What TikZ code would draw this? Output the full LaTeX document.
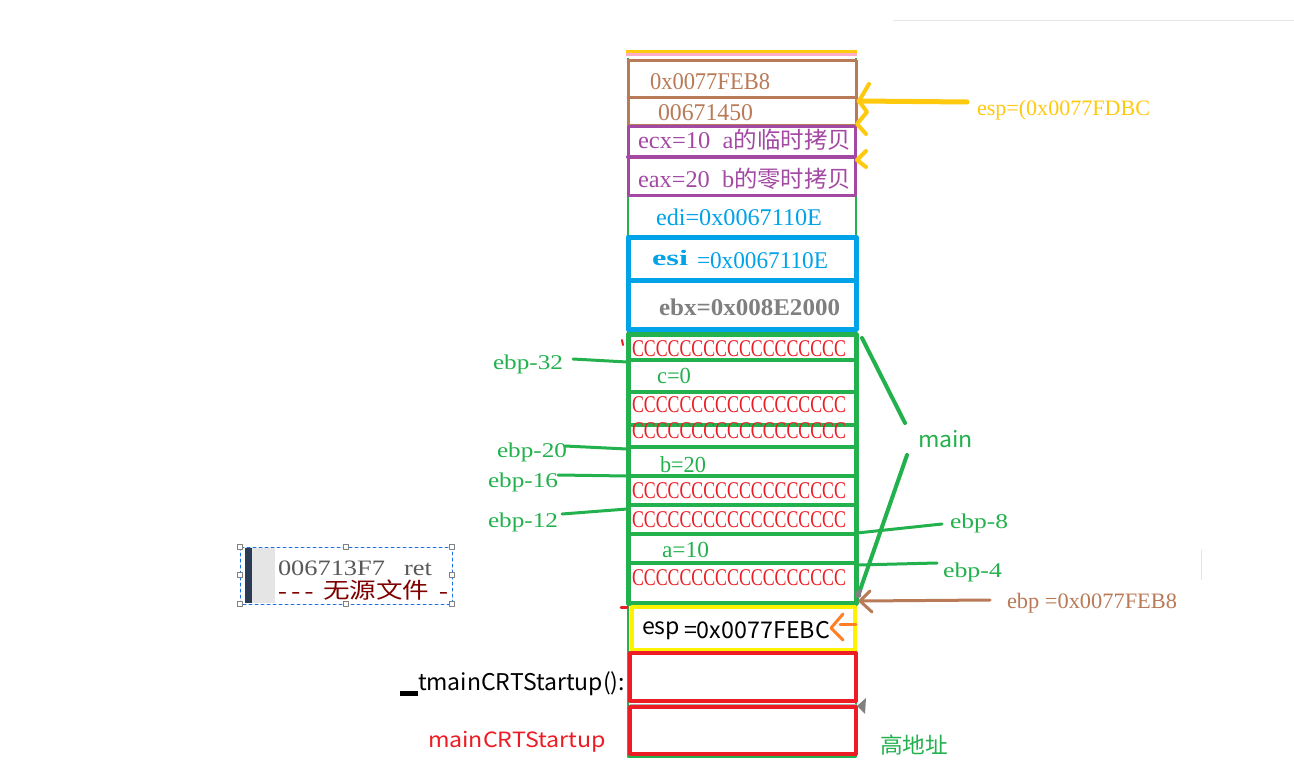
\documentclass[tikz,border=0pt]{standalone}
\usepackage{graphicx}
\usepackage{fontspec}
\setmainfont{Liberation Serif}
\newfontfamily\cjk{Noto Sans CJK SC}
\newfontfamily\ssf{Noto Sans CJK SC}
\newcommand\fw[2]{\resizebox{#1pt}{\height}{#2}}
\newcommand\fs[1]{\fontsize{#1}{#1}\selectfont}
\definecolor{pgreen}{HTML}{22B14C}
\definecolor{pbrown}{HTML}{B97A57}
\definecolor{ppurple}{HTML}{A349A4}
\definecolor{pblue}{HTML}{00A2E8}
\definecolor{pred}{HTML}{ED1C24}
\definecolor{pyellow}{HTML}{FFF200}
\definecolor{pgold}{HTML}{FFC90E}
\definecolor{ppink}{HTML}{FFAEC9}
\definecolor{porange}{HTML}{FF7F27}
\definecolor{pgray}{HTML}{7F7F7F}
\definecolor{dashblue}{HTML}{1A73E8}
\definecolor{navybar}{HTML}{2B3A55}
\definecolor{maroonc}{HTML}{800000}
\tikzset{
  lbl/.style={anchor=base west, inner sep=0pt, outer sep=0pt},
  gline/.style={pgreen, line width=4},
  handle/.style={draw=gray, fill=white, line width=0.8},
}
\begin{document}
\begin{tikzpicture}[x=1pt,y=-1pt,line cap=round,line join=round]
\useasboundingbox[fill=white] (0,0) rectangle (1294,779);

% faint lines
\draw[gray!20, line width=1] (893,20) -- (1294,20);
\draw[gray!20, line width=1] (1201,550) -- (1201,580);

% top bars
\draw[pgold, line width=3, line cap=butt] (626,51) -- (857,51);
\draw[ppink, line width=3, line cap=butt] (626,54.5) -- (857,54.5);

% outer thin green frame
\draw[pgreen, line width=2, line cap=butt] (628,58) -- (628,757) -- (856,757) -- (856,58);

% brown boxes
\draw[pbrown, line width=3] (628,60) rectangle (856,125);
\draw[pbrown, line width=3] (628,97) -- (856,97);
% purple boxes
\draw[ppurple, line width=3] (628,126) rectangle (855,195);
\draw[ppurple, line width=4] (628,157) -- (855,157);
% blue boxes
\draw[pblue, line width=5] (628,237) rectangle (856,280);
\draw[pblue, line width=5] (628,280) rectangle (856,329);

% green main frame
\draw[pgreen, line width=5] (628,334) rectangle (856,603);
\foreach \yy in {360,392,425,447,476,505,534,563}
  \draw[gline] (628,\yy) -- (856,\yy);

% yellow box
\draw[pyellow, line width=4] (632,607) rectangle (855,650);
% red boxes
\draw[pred, line width=4] (630,653) rectangle (856,701);
\draw[gray!60, line width=1] (630,704) -- (856,704);
\draw[pred, line width=4] (630,707) rectangle (856,754);

% small red ticks
\draw[pred, line width=2] (622,340) -- (623,345);
\draw[pred, line width=3] (621,607) -- (627,607);

% texts in the stack
\node[lbl, text=pbrown] (t1) at (650,89) {\fs{24}\fw{120}{0x0077FEB8}};
\node[lbl, text=pbrown] (t2) at (658,120) {\fs{24}\fw{95}{00671450}};
\node[lbl, text=ppurple] (t3) at (638,148) {\fs{24}\fw{213}{ecx=10\hspace{12pt}a{\cjk\fs{23}的临时拷贝}}};
\node[lbl, text=ppurple] (t4) at (638,187) {\fs{24}\fw{213}{eax=20\hspace{12pt}b{\cjk\fs{23}的零时拷贝}}};
\node[lbl, text=pblue] (t5) at (656,225) {\fs{24}\fw{166}{edi=0x0067110E}};
\node[lbl, text=pblue] (t6a) at (652,265) {\fs{22}\fw{36}{\bfseries esi}};
\node[lbl, text=pblue] (t6b) at (697,268) {\fs{24}\fw{131}{=0x0067110E}};
\node[lbl, text=pgray] (t7) at (659,315) {\fs{24}\fw{181}{\bfseries ebx=0x008E2000}};

\node[lbl, text=pred] (c1) at (632,356) {\fs{24}\fw{214}{CCCCCCCCCCCCCCCCCC}};
\node[lbl, text=pgreen] (cv) at (657,383) {\fs{23}\fw{34}{c=0}};
\node[lbl, text=pred] (c2) at (632,412) {\fs{24}\fw{214}{CCCCCCCCCCCCCCCCCC}};
\node[lbl, text=pred] (c3) at (632,438) {\fs{24}\fw{214}{CCCCCCCCCCCCCCCCCC}};
\node[lbl, text=pgreen] (bv) at (660,472) {\fs{23}\fw{46}{b=20}};
\node[lbl, text=pred] (c4) at (632,498) {\fs{24}\fw{214}{CCCCCCCCCCCCCCCCCC}};
\node[lbl, text=pred] (c5) at (632,527) {\fs{24}\fw{214}{CCCCCCCCCCCCCCCCCC}};
\node[lbl, text=pgreen] (av) at (662,557) {\fs{23}\fw{47}{a=10}};
\node[lbl, text=pred] (c6) at (632,585) {\fs{24}\fw{214}{CCCCCCCCCCCCCCCCCC}};

\node[lbl, text=black] (esp1) at (642,634) {\ssf\fs{23}\fw{38}{esp}};
\node[lbl, text=black] (esp2) at (684,638) {\ssf\fs{23}\fw{146}{=0x0077FEBC}};

% left labels
\fill[black] (400,691) rectangle (418,696);
\node[lbl, text=black] (tm) at (418,690) {\ssf\fs{23}\fw{207}{tmainCRTStartup():}};
\node[lbl, text=pred] (mc) at (428,747) {\ssf\fs{21}\fw{178}{mainCRTStartup}};
\node[lbl, text=pgreen] (gd) at (880,753) {\ssf\fs{22}\fw{68}{高地址}};
\node[lbl, text=pgreen] (mn) at (918,447) {\ssf\fs{22}\fw{55}{main}};

\node[lbl, text=pgreen] (l32) at (493,369) {\fs{21}\fw{70}{ebp-32}};
\node[lbl, text=pgreen] (l20) at (497,457) {\fs{21}\fw{70}{ebp-20}};
\node[lbl, text=pgreen] (l16) at (488,487) {\fs{21}\fw{70}{ebp-16}};
\node[lbl, text=pgreen] (l12) at (488,527) {\fs{21}\fw{70}{ebp-12}};
\node[lbl, text=pgreen] (l8) at (950,528) {\fs{21}\fw{58}{ebp-8}};
\node[lbl, text=pgreen] (l4) at (943,577) {\fs{21}\fw{59}{ebp-4}};
\node[lbl, text=pbrown] (lebp) at (1007,608) {\fs{22}\fw{170}{ebp =0x0077FEB8}};
\node[lbl, text=pgold] (lesp) at (977,115) {\fs{22}\fw{173}{esp=(0x0077FDBC}};

% connector end points
\coordinate (a32) at (573,359); \coordinate (b32) at (627,362);
\coordinate (a20) at (565,446); \coordinate (b20) at (627,449);
\coordinate (a16) at (558,475); \coordinate (b16) at (627,476);
\coordinate (a12) at (562,514); \coordinate (b12) at (627,509);
\coordinate (a8) at (942,524); \coordinate (b8) at (857,533);
\coordinate (a4) at (937,563); \coordinate (b4) at (857,565);
\coordinate (m1a) at (905,423); \coordinate (m1b) at (862,338);
\coordinate (m2a) at (907,455); \coordinate (m2b) at (858,596);

\draw[pgreen, line width=3] (a32) -- (b32);
\draw[pgreen, line width=3] (a20) -- (b20);
\draw[pgreen, line width=3] (a16) -- (b16);
\draw[pgreen, line width=3] (a12) -- (b12);
\draw[pgreen, line width=3] (a8) -- (b8);
\draw[pgreen, line width=3] (a4) -- (b4);
\draw[pgreen, line width=4] (m1a) -- (m1b);
\draw[pgreen, line width=4] (m2a) -- (m2b);

% ebp arrow (brown)
\coordinate (eb1) at (990,600); \coordinate (eb2) at (860,601);
\draw[pbrown, line width=3] (eb1) -- (eb2);
\draw[pbrown, line width=3] (870,591) -- (eb2) -- (872,612);

% esp arrow (gold)
\coordinate (es1) at (967,102); \coordinate (es2) at (859,101);
\draw[pgold, line width=5] (es1) -- (es2);
\draw[pgold, line width=4] (869,84) -- (es2) -- (867,112) -- (857,124) -- (866,134);
\draw[pgold, line width=4] (866,151) -- (857,160) -- (866,167);

% orange arrow in esp box
\draw[porange, line width=3] (856,624) -- (840,624);
\draw[porange, line width=3] (843,614) -- (831,628) -- (843,640);

% grey arrowheads
\fill[gray] (857,706) -- (866,698) -- (865,714) -- cycle;
\fill[gray] (855,592) -- (861,589) -- (861,597) -- (856,598) -- cycle;

% left screenshot box
\fill[gray!20] (245,548) rectangle (275,603);
\fill[navybar] (245,548) rectangle (252,603);
\node[lbl, text=gray!70!black] (ret) at (278,575) {\fs{22}\fw{154}{006713F7\hspace{16pt}ret}};
\node[lbl, text=maroonc] (nosrc) at (278,598) {\fs{22}\fw{170}{{-}\,{-}\,{-}\hspace{8pt}{\cjk\fs{22}无源文件}\hspace{8pt}{-}}};
\draw[dashblue, line width=1, dashed] (240,547) rectangle (452,604);
\foreach \hx/\hy in {240/547,346/547,452/547,240/575,452/575,240/604,346/604,452/604}
  \draw[handle] (\hx-2.5,\hy-2.5) rectangle (\hx+2.5,\hy+2.5);
\end{tikzpicture}
\end{document}
